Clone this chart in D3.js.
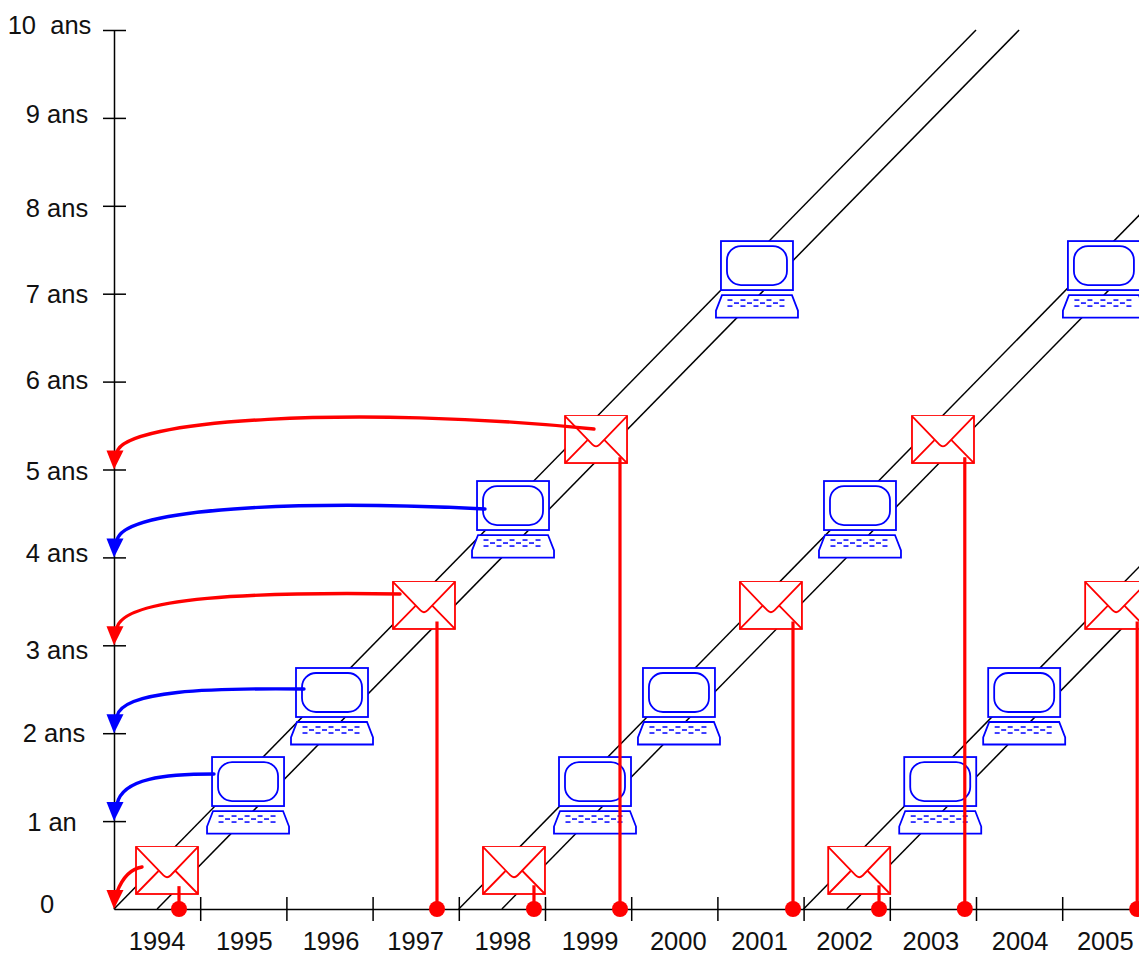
<!DOCTYPE html>
<html>
<head>
<meta charset="utf-8">
<script src="https://cdn.jsdelivr.net/npm/d3@7"></script>
<style>
body { margin: 0; background: #fff; }
svg { display: block; }
text { font-family: "Liberation Sans", Arial, sans-serif; font-size: 25.5px; fill: #111; }
</style>
</head>
<body>
<div id="chart"></div>
<script>
const years = [1994, 1995, 1996, 1997, 1998, 1999, 2000, 2001, 2002, 2003, 2004, 2005];
const ageTicks = [0, 1, 2, 3, 4, 5, 6, 7, 8, 9, 10];
const ageLabels = ["0", "1 an", "2 ans", "3 ans", "4 ans", "5 ans", "6 ans", "7 ans", "8 ans", "9 ans", "10\u00a0 ans"];

// diagonals: start of each generation, and the width of the band
const cohortStarts = [1994, 1998, 2002];
const bandEdges = [0, 0.5];

// icons, in years after the start of the generation and age
const cohortShift = [0, 4.025, 8.03];
const mailElapsed = [0.615, 3.596, 5.592];
const mailAge = [0.438, 3.453, 5.341];
const pcElapsed = [1.555, 2.529, 4.629, 7.459];
const pcAge = [1.45, 2.463, 4.59, 7.32];

// red drop lines to the date axis
const dropYears = [1994.754, 1997.747, 1998.872, 1999.87, 2001.877, 2002.875, 2003.87, 2005.87];
const dropTops = [0.26, 3.27, 0.27, 5.14, 3.27, 0.27, 5.14, 3.27];

// curved arrows to the age axis
const arrowKinds = ["mail", "pc", "pc", "mail", "pc", "mail"];
const arrowFromYear = [1994.325, 1995.16, 1996.204, 1997.318, 1998.304, 1999.568];
const arrowFromAge = [0.478, 1.536, 2.503, 3.584, 4.551, 5.461];
const arrowToAge = [0, 1, 2, 3, 4, 5];
const arrowRise = [-2, 0, 1, 2, 9, 24];
const arrowDrop = [13, 26, 26, 32, 33, 33];

const RED = "#ff0000", BLUE = "#0000ff";
const width = 1139, height = 953;

const x = d3.scaleLinear().domain([1994, 2006]).range([114, 1148.4]);
const y = d3.scaleLinear().domain([0, 10]).range([909, 30]);

const svg = d3.select("#chart").append("svg")
    .attr("width", width)
    .attr("height", height);

const plot = svg.append("g");

// diagonals
const diagonals = d3.cross(cohortStarts, bandEdges, (s, e) => s + e);
const line = d3.line().x(d => x(d[0])).y(d => y(d[1]));
plot.selectAll(".diag")
    .data(diagonals)
    .enter().append("path")
    .attr("class", "diag")
    .attr("fill", "none")
    .attr("stroke", "#000")
    .attr("stroke-width", 1.5)
    .attr("d", d => line([[d, 0], [d + 10, 10]]));

// axes
const xAxis = svg.append("g")
    .attr("transform", `translate(0,${y(0)})`)
    .call(d3.axisBottom(x).tickValues(d3.range(1995, 2007)).tickFormat("").tickSize(12).tickSizeOuter(0));
xAxis.selectAll(".tick line").attr("y1", -12).attr("stroke-width", 1.5);
xAxis.select(".domain").attr("stroke-width", 1.5);

const yAxis = svg.append("g")
    .attr("transform", `translate(${x(1994)},0)`)
    .call(d3.axisLeft(y).tickValues(ageTicks.slice(1)).tickFormat("").tickSize(11).tickSizeOuter(0));
yAxis.selectAll(".tick line").attr("x2", 12).attr("x1", -11).attr("stroke-width", 1.5);
yAxis.select(".domain").attr("stroke-width", 1.5);

// labels are not quite regular in the original
const yearNudge = [0, 1, 1.5, 0, 1, 2, 4, -1, -2, -2, 1, 0];
svg.selectAll(".year-label")
    .data(years)
    .enter().append("text")
    .attr("class", "year-label")
    .attr("text-anchor", "middle")
    .attr("x", (d, i) => x(d + 0.5) + yearNudge[i])
    .attr("y", 950)
    .text(d => d);

const ageLabelX = [47, 52, 54, 57, 57, 57, 57, 57, 57, 57, 49.5];
const ageLabelDy = [4, 10, 9, 14, 5, 10, 7, 9, 11, 5, 4];
svg.selectAll(".age-label")
    .data(ageTicks)
    .enter().append("text")
    .attr("class", "age-label")
    .attr("text-anchor", "middle")
    .attr("x", (d, i) => ageLabelX[i])
    .attr("y", (d, i) => y(d) + ageLabelDy[i])
    .text((d, i) => ageLabels[i]);

function drawMail(g) {
    g.append("rect").attr("x", -31).attr("y", -23.5).attr("width", 62).attr("height", 47);
    g.append("path").attr("d", "M-31,-23.5L-3.5,5Q0,8.5 3.5,5L31,-23.5");
    g.append("path").attr("d", "M-31,23.5L-8.5,0.5M31,23.5L8,0");
}

function drawPc(g) {
    g.append("rect").attr("x", -36).attr("y", -24.5).attr("width", 72).attr("height", 49);
    g.append("rect").attr("x", -30).attr("y", -19.5).attr("width", 60).attr("height", 39).attr("rx", 14).attr("ry", 14);
    g.append("path").attr("d", "M-35,29.5H35L41,45V52H-41V45Z");
    const keys = d3.range(5).map(i => [-29.5 + i * 13, 34.5])
        .concat(d3.range(4).map(i => [-23 + i * 13, 37.5]))
        .concat(d3.range(5).map(i => [-29.5 + i * 13, 40.5]));
    g.selectAll(".key")
        .data(keys)
        .enter().append("path")
        .attr("class", "key")
        .attr("stroke-width", 1.5)
        .attr("d", d => `M${d[0]},${d[1]}h5`);
}

// icons hide the diagonals
cohortShift.forEach(shift => {
    pcElapsed.forEach((e, i) => {
        const g = plot.append("g")
            .attr("transform", `translate(${x(1994 + shift + e)},${y(pcAge[i])})`)
            .attr("fill", "#fff")
            .attr("stroke", BLUE)
            .attr("stroke-width", 1.8);
        drawPc(g);
    });
    mailElapsed.forEach((e, i) => {
        const g = plot.append("g")
            .attr("transform", `translate(${x(1994 + shift + e)},${y(mailAge[i])})`)
            .attr("fill", "#fff")
            .attr("stroke", RED)
            .attr("stroke-width", 1.8);
        drawMail(g);
    });
});

// drop lines
svg.selectAll(".drop")
    .data(dropYears)
    .enter().append("line")
    .attr("class", "drop")
    .attr("stroke", RED)
    .attr("stroke-width", 3.2)
    .attr("x1", d => x(d))
    .attr("x2", d => x(d))
    .attr("y1", (d, i) => y(dropTops[i]))
    .attr("y2", y(0));

svg.selectAll(".dot")
    .data(dropYears)
    .enter().append("circle")
    .attr("class", "dot")
    .attr("fill", RED)
    .attr("cx", d => x(d))
    .attr("cy", y(0))
    .attr("r", 8);

// curved arrows
const headLength = 19;
arrowKinds.forEach((kind, i) => {
    const colour = kind === "mail" ? RED : BLUE;
    const x0 = x(arrowFromYear[i]), y0 = y(arrowFromAge[i]);
    const tipX = x(1994), tipY = y(arrowToAge[i]);
    const x1 = tipX + 3, y1 = tipY - headLength + 2;

    const p = d3.path();
    p.moveTo(x0, y0);
    p.bezierCurveTo((x0 + x1) / 2, y0 - arrowRise[i], x1 + 5, y1 - arrowDrop[i], x1, y1);
    svg.append("path")
        .attr("fill", "none")
        .attr("stroke", colour)
        .attr("stroke-width", 3.4)
        .attr("stroke-linecap", "round")
        .attr("d", p.toString());

    const head = d3.path();
    head.moveTo(tipX, tipY);
    head.lineTo(tipX - 7.5, tipY - headLength);
    head.lineTo(tipX + 9.5, tipY - headLength);
    head.closePath();
    svg.append("path").attr("fill", colour).attr("d", head.toString());
});
</script>
</body>
</html>
